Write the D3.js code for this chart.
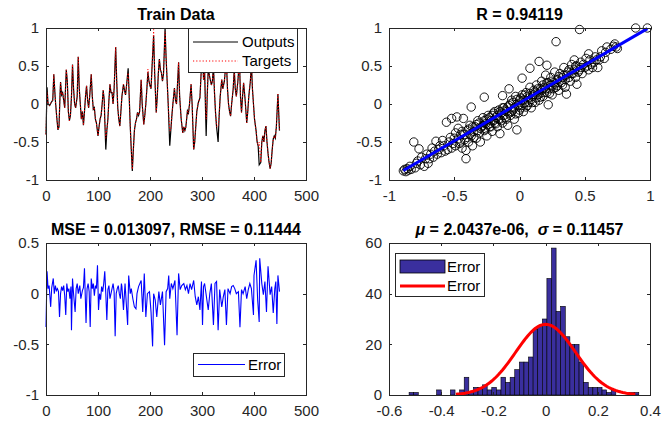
<!DOCTYPE html>
<html>
<head>
<meta charset="utf-8">
<script src="https://cdn.jsdelivr.net/npm/d3@7"></script>
<style>
  body { margin: 0; background: #fff; }
  svg { display: block; font-family: "Liberation Sans", Arial, sans-serif; }
  text { white-space: pre; }
</style>
</head>
<body>
<svg id="chart" width="671" height="428"></svg>
<script>
// ---- train data (sample index / value) ----
const trainIdx = [0, 2, 4, 7, 10, 13, 15, 18, 21, 23, 25, 27, 28, 30, 32, 34, 36, 39, 41, 43, 45, 47, 49, 51, 53, 55, 57, 60, 62, 64, 66, 68, 70, 72, 74, 76, 78, 80, 82, 84, 87, 89, 91, 93, 95, 97, 100, 102, 104, 106, 108, 110, 112, 113, 115, 117, 119, 121, 123, 125, 127, 129, 131, 134, 136, 138, 140, 142, 144, 146, 149, 151, 153, 155, 158, 160, 162, 164, 166, 168, 170, 172, 174, 176, 178, 180, 183, 185, 188, 190, 192, 194, 196, 198, 200, 202, 204, 207, 209, 212, 214, 216, 218, 220, 222, 224, 226, 229, 231, 233, 235, 238, 240, 242, 244, 247, 249, 251, 255, 257, 260, 263, 265, 267, 269, 272, 274, 276, 279, 281, 284, 286, 288, 290, 293, 296, 299, 301, 303, 305, 306, 308, 310, 312, 315, 318, 320, 322, 324, 326, 328, 331, 333, 335, 338, 340, 343, 345, 347, 349, 351, 353, 355, 357, 360, 362, 364, 366, 369, 372, 374, 376, 378, 380, 383, 386, 388, 390, 393, 395, 397, 399, 401, 404, 406, 408, 410, 413, 415, 417, 419, 421, 423, 425, 427, 429, 431, 433, 435, 437, 439, 441, 443, 446, 449]
const targets = [-0.40, 0.15, 0.0, -0.02, 0.02, 0.05, 0.39, 0.05, -0.2, -0.34, -0.3, 0.12, 0.29, 0.12, 0.15, 0.05, -0.05, 0.45, 0.3, -0.1, -0.22, -0.15, 0.1, 0.52, 0.2, 0.0, -0.05, 0.1, 0.62, 0.2, 0.0, -0.2, -0.1, -0.28, -0.1, 0.1, 0.24, 0.05, -0.05, 0.1, 0.39, 0.1, -0.07, -0.05, -0.2, -0.25, -0.42, -0.3, -0.2, -0.15, 0.0, 0.18, 0.05, -0.2, -0.45, -0.35, -0.2, 0.05, 0.26, 0.15, 0.15, 0.0, 0.2, 0.75, 0.3, -0.05, -0.2, -0.29, -0.1, 0.1, 0.26, 0.18, 0.12, 0.25, 0.41, 0.1, -0.29, -0.6, -0.86, -0.6, -0.35, -0.25, -0.2, -0.11, -0.15, -0.1, 0.32, 0.0, -0.27, -0.15, 0.0, 0.2, 0.46, 0.3, 0.24, 0.2, 0.5, 0.98, 0.4, -0.11, 0.1, 0.4, 0.59, 0.45, 0.41, 0.3, 0.4, 0.95, 0.6, 0.3, 0.0, -0.35, -0.35, -0.16, 0.0, 0.21, 0.05, 0.0, 0.55, 0.1, -0.2, -0.38, -0.3, -0.35, -0.3, -0.09, -0.12, 0.0, 0.26, 0.0, -0.6, -0.5, -0.3, -0.1, 0.02, 0.08, 0.5, 0.7, 0.32, 0.45, 0.15, -0.2, 0.1, 0.46, 0.35, 0.25, 0.3, 0.5, 0.15, -0.11, -0.3, -0.3, -0.15, 0.1, 0.32, 0.2, 0.3, 0.45, 0.55, 0.2, 0.0, -0.1, -0.16, 0.0, 0.2, 0.46, 0.2, 0.1, 0.3, 0.59, 0.1, -0.11, 0.1, 0.28, 0.05, -0.25, -0.1, 0.1, 0.3, 0.54, 0.2, 0.0, -0.2, -0.35, -0.5, -0.55, -0.5, -0.77, -0.5, -0.42, -0.5, -0.35, -0.29, -0.5, -0.65, -0.77, -0.85, -0.78, -0.6, -0.46, -0.42, -0.45, -0.3, 0.13, -0.35]
const outputs = [-0.40, 0.22, 0.0, -0.02, 0.02, 0.05, 0.39, 0.05, -0.2, -0.34, -0.3, 0.12, 0.29, 0.12, 0.15, 0.05, -0.05, 0.45, 0.3, -0.1, -0.22, -0.15, 0.1, 0.52, 0.2, 0.0, -0.05, 0.1, 0.62, 0.2, 0.0, -0.2, -0.1, -0.28, -0.1, 0.1, 0.24, 0.05, -0.05, 0.1, 0.39, 0.1, -0.07, -0.05, -0.2, -0.25, -0.42, -0.3, -0.2, -0.15, 0.0, 0.18, 0.05, -0.2, -0.6, -0.35, -0.2, 0.05, 0.26, 0.15, 0.15, 0.0, 0.2, 0.75, 0.3, -0.05, -0.2, -0.29, -0.1, 0.1, 0.26, 0.18, 0.12, 0.25, 0.47, 0.1, -0.29, -0.6, -0.88, -0.6, -0.35, -0.25, -0.2, -0.11, -0.15, -0.1, 0.32, 0.0, -0.27, -0.15, 0.0, 0.2, 0.42, 0.3, 0.24, 0.2, 0.5, 0.9, 0.4, -0.11, 0.1, 0.4, 0.59, 0.45, 0.41, 0.3, 0.4, 1.0, 0.6, 0.3, 0.0, -0.55, -0.35, -0.16, 0.0, 0.21, 0.05, 0.0, 0.55, 0.1, -0.2, -0.38, -0.3, -0.35, -0.3, -0.09, -0.12, 0.0, 0.26, 0.0, -0.6, -0.5, -0.3, -0.1, 0.02, 0.08, 0.5, 0.7, 0.32, 0.45, 0.15, -0.42, 0.1, 0.46, 0.35, 0.25, 0.3, 0.5, 0.15, -0.11, -0.3, -0.5, -0.15, 0.1, 0.32, 0.2, 0.3, 0.45, 0.55, 0.2, 0.0, -0.1, -0.16, 0.0, 0.2, 0.46, 0.2, 0.1, 0.3, 0.59, 0.1, -0.11, 0.1, 0.28, 0.05, -0.25, -0.1, 0.1, 0.3, 0.54, 0.2, 0.0, -0.2, -0.35, -0.5, -0.55, -0.8, -0.77, -0.5, -0.42, -0.5, -0.35, -0.29, -0.5, -0.65, -0.77, -0.85, -0.78, -0.6, -0.46, -0.42, -0.45, -0.3, 0.13, -0.35]

// ---- error series ----
const errIdx = [0, 2, 4, 6, 9, 11, 14, 16, 18, 20, 22, 24, 26, 28, 30, 32, 34, 36, 38, 40, 42, 44, 46, 48, 49, 51, 53, 56, 58, 60, 62, 65, 67, 70, 72, 74, 77, 79, 81, 83, 85, 87, 89, 91, 93, 95, 97, 99, 101, 103, 105, 107, 109, 111, 113, 115, 117, 119, 121, 123, 125, 127, 129, 131, 133, 135, 137, 139, 141, 143, 145, 146, 149, 152, 157, 159, 162, 164, 167, 170, 173, 175, 178, 183, 186, 189, 192, 195, 199, 202, 205, 207, 210, 213, 217, 220, 224, 228, 231, 234, 236, 238, 241, 244, 248, 252, 255, 258, 261, 265, 268, 271, 274, 277, 280, 284, 287, 290, 293, 296, 299, 301, 303, 305, 312, 315, 318, 322, 325, 328, 331, 334, 338, 341, 344, 347, 350, 354, 357, 360, 363, 366, 370, 373, 376, 379, 383, 386, 389, 392, 395, 399, 400, 404, 407, 410, 411, 415, 418, 421, 424, 427, 431, 434, 437, 440, 442, 444, 446, 449]
const errVals = [-0.33, 0.22, 0.05, 0.08, -0.13, 0.06, 0.15, 0.0, 0.08, 0.03, 0.05, 0.02, -0.23, 0.0, 0.07, 0.03, 0.08, -0.02, -0.21, 0.10, 0.02, 0.05, -0.05, 0.07, -0.36, 0.15, 0.0, -0.18, 0.05, 0.10, 0.0, 0.08, -0.05, 0.03, 0.06, 0.25, -0.29, 0.05, 0.10, 0.02, -0.33, 0.15, 0.05, 0.10, -0.02, 0.08, 0.05, 0.28, -0.16, 0.0, -0.06, 0.07, 0.02, 0.10, 0.22, 0.0, -0.26, 0.04, 0.08, -0.05, 0.0, 0.05, 0.10, 0.02, -0.42, 0.0, 0.05, 0.08, 0.0, -0.05, 0.10, 0.07, -0.16, 0.10, -0.31, 0.18, 0.0, 0.05, -0.05, -0.13, -0.15, 0.0, 0.07, 0.13, -0.18, 0.20, -0.23, 0.0, 0.02, -0.18, -0.52, 0.0, -0.06, -0.23, 0.02, -0.11, 0.02, -0.51, 0.02, 0.05, 0.18, -0.05, 0.10, 0.05, 0.13, -0.41, 0.20, 0.04, 0.08, 0.10, 0.04, 0.08, 0.0, 0.10, 0.04, 0.13, -0.03, -0.11, -0.03, -0.16, 0.12, -0.31, 0.07, 0.10, -0.16, 0.0, 0.10, -0.31, 0.10, 0.12, -0.36, 0.04, -0.13, -0.03, 0.04, -0.31, 0.05, 0.0, 0.07, 0.08, 0.05, 0.0, 0.02, -0.33, 0.04, 0.0, 0.07, -0.05, 0.04, 0.10, 0.05, -0.21, 0.18, 0.33, -0.06, -0.28, 0.35, 0.10, -0.01, 0.12, -0.18, 0.27, -0.01, 0.07, -0.19, 0.05, 0.12, -0.30, 0.18, 0.02]

// ---- regression scatter (targets vs outputs) ----
const scatT = [-0.89, -0.88, -0.87, -0.86, -0.85, -0.83, -0.80, -0.81, -0.77, -0.78, -0.76, -0.73, -0.72, -0.70, -0.68, -0.66, -0.65, -0.64, -0.62, -0.60, -0.58, -0.56, -0.55, -0.54, -0.52, -0.52, -0.50, -0.49, -0.48, -0.47, -0.46, -0.45, -0.44, -0.43, -0.42, -0.41, -0.41, -0.40, -0.39, -0.38, -0.37, -0.37, -0.36, -0.35, -0.34, -0.33, -0.32, -0.31, -0.30, -0.29, -0.28, -0.27, -0.27, -0.26, -0.25, -0.24, -0.23, -0.22, -0.21, -0.20, -0.19, -0.18, -0.17, -0.16, -0.15, -0.15, -0.14, -0.13, -0.13, -0.12, -0.11, -0.10, -0.09, -0.08, -0.08, -0.07, -0.06, -0.05, -0.04, -0.03, -0.02, -0.02, -0.01, 0.00, 0.01, 0.02, 0.02, 0.03, 0.04, 0.05, 0.06, 0.07, 0.08, 0.08, 0.09, 0.10, 0.11, 0.12, 0.13, 0.14, 0.15, 0.15, 0.16, 0.17, 0.18, 0.19, 0.20, 0.21, 0.21, 0.22, 0.22, 0.23, 0.24, 0.25, 0.26, 0.27, 0.28, 0.28, 0.29, 0.30, 0.31, 0.32, 0.33, 0.34, 0.35, 0.36, 0.36, 0.38, 0.39, 0.40, 0.41, 0.42, 0.43, 0.44, 0.44, 0.46, 0.46, 0.47, 0.48, 0.50, 0.51, 0.53, 0.53, 0.55, 0.57, 0.58, 0.60, 0.61, 0.63, 0.65, 0.67, 0.70, 0.73, 0.74, 0.89, 0.98,
  -0.84, -0.79, -0.75, -0.71, -0.69, -0.67, -0.63, -0.61, -0.59, -0.57, -0.53, -0.51, -0.49, -0.47, -0.45, -0.44, -0.42, -0.40, -0.39, -0.38, -0.36, -0.35, -0.33, -0.32, -0.31, -0.30, -0.28, -0.27, -0.26, -0.25, -0.24, -0.23, -0.22, -0.21, -0.20, -0.19, -0.18, -0.17, -0.16, -0.15, -0.14, -0.13, -0.12, -0.11, -0.10, -0.09, -0.08, -0.07, -0.06, -0.05, -0.04, -0.03, -0.02, -0.01, 0.00, 0.01, 0.02, 0.03, 0.04, 0.05, 0.06, 0.07, 0.08, 0.09, 0.10, 0.11, 0.12, 0.13, 0.14, 0.15, 0.16, 0.17, 0.18, 0.19, 0.20, 0.21, 0.23, 0.24, 0.25, 0.26, 0.27, 0.29, 0.30, 0.31, 0.33, 0.34, 0.35, 0.37, 0.38, 0.40, 0.42, 0.43, 0.45, 0.47, 0.49, 0.52, 0.54, 0.56, 0.59, 0.62, 0.66, 0.72, 0.75]
const scatO = [-0.88, -0.86, -0.89, -0.85, -0.87, -0.86, -0.84, -0.50, -0.59, -0.75, -0.80, -0.82, -0.72, -0.78, -0.66, -0.70, -0.62, -0.49, -0.60, -0.64, -0.55, -0.24, -0.60, -0.50, -0.19, -0.58, -0.45, -0.55, -0.17, -0.32, -0.52, -0.40, -0.58, -0.19, -0.47, -0.72, -0.61, -0.35, -0.50, -0.28, -0.04, -0.42, -0.55, -0.36, -0.30, -0.45, -0.22, -0.38, -0.50, -0.30, -0.18, 0.09, -0.35, -0.26, -0.42, -0.15, -0.30, -0.22, -0.36, -0.12, -0.25, -0.18, -0.30, -0.08, -0.39, -0.20, -0.12, 0.11, -0.25, -0.05, -0.18, -0.10, -0.28, 0.20, -0.02, -0.15, 0.05, -0.08, -0.20, 0.10, -0.34, 0.00, -0.12, 0.05, -0.05, 0.34, 0.12, -0.10, 0.02, 0.15, -0.02, 0.08, 0.47, 0.22, -0.05, 0.10, 0.18, 0.02, 0.25, 0.12, 0.56, 0.05, 0.20, 0.30, 0.10, 0.22, 0.38, 0.51, 0.15, -0.01, 0.28, 0.20, 0.35, 0.12, 0.28, 0.42, 0.82, 0.22, 0.32, 0.18, 0.40, 0.28, 0.35, 0.48, 0.22, 0.13, 0.38, 0.45, 0.30, 0.52, 0.40, 0.58, 0.35, 0.26, 0.50, 0.98, 0.45, 0.55, 0.40, 0.48, 0.60, 0.66, 0.45, 0.52, 0.55, 0.62, 0.48, 0.58, 0.70, 0.60, 0.75, 0.72, 0.79, 0.75, 1.00, 1.00,
  -0.82, -0.78, -0.70, -0.66, -0.72, -0.58, -0.66, -0.55, -0.48, -0.62, -0.44, -0.52, -0.38, -0.46, -0.50, -0.36, -0.40, -0.44, -0.33, -0.40, -0.30, -0.44, -0.27, -0.35, -0.25, -0.32, -0.28, -0.22, -0.33, -0.20, -0.27, -0.18, -0.30, -0.15, -0.22, -0.10, -0.26, -0.15, -0.20, -0.10, -0.22, -0.05, -0.15, -0.08, -0.20, -0.04, -0.12, 0.00, -0.10, 0.02, -0.05, -0.13, 0.06, -0.02, -0.08, 0.08, -0.02, 0.05, 0.12, -0.04, 0.10, 0.02, 0.14, 0.06, 0.02, 0.12, 0.16, 0.08, 0.20, 0.13, 0.09, 0.18, 0.25, 0.15, 0.20, 0.28, 0.14, 0.25, 0.30, 0.20, 0.26, 0.24, 0.36, 0.30, 0.25, 0.38, 0.32, 0.42, 0.35, 0.40, 0.45, 0.50, 0.42, 0.48, 0.52, 0.50, 0.58, 0.48, 0.58, 0.62, 0.68, 0.76, 0.73]

// ---- error histogram ----
const histStart = -0.523
const histWidth = 0.0176
const histCounts = [1, 1, 0, 0, 0, 0, 2, 0, 0, 2, 0, 2, 7, 1, 3, 3, 4, 2, 3, 2, 7, 5, 7, 10, 13, 13, 15, 26, 27, 30, 46, 58, 33, 35, 23, 20, 20, 13, 5, 3, 3, 3, 2, 1, 2, 0, 0, 0, 1, 1]
const errMu = 2.0437e-06
const errSigma = 0.11457

const titles = ['Train Data', 'R = 0.94119', 'MSE = 0.013097, RMSE = 0.11444']

const svg = d3.select('#chart')
const axisColor = '#262626'
const font = '"Liberation Sans", Arial, sans-serif'

function frame (g, x, y, xt, yt) {
  const [xa, xb] = x.range()
  const [yb, ya] = y.range()
  const fmt = d => String(d)
  g.append('g').attr('transform', `translate(0,${yb})`)
    .call(d3.axisBottom(x).tickValues(xt).tickSizeInner(-3).tickSizeOuter(0).tickPadding(10).tickFormat(fmt))
  g.append('g').attr('transform', `translate(0,${ya})`)
    .call(d3.axisTop(x).tickValues(xt).tickSizeInner(-3).tickSizeOuter(0).tickFormat(''))
  g.append('g').attr('transform', `translate(${xa},0)`)
    .call(d3.axisLeft(y).tickValues(yt).tickSizeInner(-3).tickSizeOuter(0).tickPadding(7).tickFormat(fmt))
  g.append('g').attr('transform', `translate(${xb},0)`)
    .call(d3.axisRight(y).tickValues(yt).tickSizeInner(-3).tickSizeOuter(0).tickFormat(''))
  g.selectAll('.domain, .tick line').attr('stroke', axisColor).attr('shape-rendering', 'crispEdges')
  g.selectAll('.tick text').attr('fill', axisColor).style('font-size', '15px').style('font-family', font)
}

function title (g, x, y, txt) {
  return g.append('text')
    .attr('x', (x.range()[0] + x.range()[1]) / 2)
    .attr('y', y.range()[1] - 8)
    .attr('text-anchor', 'middle')
    .attr('font-weight', 'bold')
    .attr('font-size', 16)
    .text(txt)
}

function legendBox (g, x0, y0, w, h) {
  g.append('rect').attr('x', x0).attr('y', y0).attr('width', w).attr('height', h)
    .attr('fill', '#fff').attr('stroke', axisColor).attr('shape-rendering', 'crispEdges')
}

function legendText (g, x0, y0, txt) {
  g.append('text').attr('x', x0).attr('y', y0).attr('dy', '0.35em')
    .attr('font-size', 15).attr('fill', '#000').text(txt)
}

// ---------- top left: train data ----------
{
  const g = svg.append('g')
  const x = d3.scaleLinear().domain([0, 500]).range([46, 306])
  const y = d3.scaleLinear().domain([-1, 1]).range([180, 28])
  const line = d3.line().x(d => x(d[0])).y(d => y(d[1]))
  g.append('path').datum(d3.zip(trainIdx, outputs)).attr('d', line)
    .attr('fill', 'none').attr('stroke', '#000').attr('stroke-width', 1.2)
  g.append('path').datum(d3.zip(trainIdx, targets)).attr('d', line)
    .attr('fill', 'none').attr('stroke', '#f00').attr('stroke-width', 1).attr('stroke-dasharray', '1.2,2')
  frame(g, x, y, [0, 100, 200, 300, 400, 500], [-1, -0.5, 0, 0.5, 1])
  title(g, x, y, titles[0])
  legendBox(g, 188, 28, 109, 44)
  g.append('line').attr('x1', 193).attr('x2', 238).attr('y1', 42).attr('y2', 42).attr('stroke', '#000')
  g.append('line').attr('x1', 193).attr('x2', 238).attr('y1', 61).attr('y2', 61)
    .attr('stroke', '#f00').attr('stroke-dasharray', '1.2,2')
  legendText(g, 242, 42, 'Outputs')
  legendText(g, 242, 61, 'Targets')
}

// ---------- top right: regression ----------
{
  const g = svg.append('g')
  const x = d3.scaleLinear().domain([-1, 1]).range([389, 650])
  const y = d3.scaleLinear().domain([-1, 1]).range([180, 28])
  const pts = d3.zip(scatT, scatO)
  g.append('g').selectAll('circle').data(pts).join('circle')
    .attr('cx', d => x(d[0])).attr('cy', d => y(d[1])).attr('r', 4.2)
    .attr('fill', 'none').attr('stroke', '#000').attr('stroke-width', 0.9)
  // least-squares fit of outputs on targets
  const mx = d3.mean(pts, d => d[0]), my = d3.mean(pts, d => d[1])
  const slope = d3.sum(pts, d => (d[0] - mx) * (d[1] - my)) / d3.sum(pts, d => (d[0] - mx) ** 2)
  const icpt = my - slope * mx
  const [lo, hi] = d3.extent(pts, d => d[0])
  g.append('line')
    .attr('x1', x(lo)).attr('y1', y(slope * lo + icpt))
    .attr('x2', x(hi)).attr('y2', y(slope * hi + icpt))
    .attr('stroke', '#00f').attr('stroke-width', 3)
  frame(g, x, y, [-1, -0.5, 0, 0.5, 1], [-1, -0.5, 0, 0.5, 1])
  title(g, x, y, titles[1])
}

// ---------- bottom left: error ----------
{
  const g = svg.append('g')
  const x = d3.scaleLinear().domain([0, 500]).range([46, 306])
  const y = d3.scaleLinear().domain([-1, 0.5]).range([395, 243])
  const line = d3.line().x(d => x(d[0])).y(d => y(d[1]))
  g.append('path').datum(d3.zip(errIdx, errVals)).attr('d', line)
    .attr('fill', 'none').attr('stroke', '#00f').attr('stroke-width', 1.1)
  frame(g, x, y, [0, 100, 200, 300, 400, 500], [-1, -0.5, 0, 0.5])
  title(g, x, y, titles[2])
  legendBox(g, 193, 353, 91, 23)
  g.append('line').attr('x1', 198).attr('x2', 245).attr('y1', 364.5).attr('y2', 364.5).attr('stroke', '#00f')
  legendText(g, 248, 364.5, 'Error')
}

// ---------- bottom right: histogram ----------
{
  const g = svg.append('g')
  const x = d3.scaleLinear().domain([-0.6, 0.4]).range([389, 650])
  const y = d3.scaleLinear().domain([0, 60]).range([395, 243])
  const barFill = '#3a2f9e'
  g.append('g').selectAll('rect').data(histCounts).join('rect')
    .attr('x', (d, i) => x(histStart + i * histWidth))
    .attr('width', x(histWidth) - x(0))
    .attr('y', d => y(d))
    .attr('height', d => y(0) - y(d))
    .attr('fill', barFill).attr('stroke', '#000').attr('stroke-width', 0.6)
  // normal fit scaled to the histogram area
  const area = d3.sum(histCounts) * histWidth
  const xs = d3.range(101).map(k => errMu - 3 * errSigma + k * 6 * errSigma / 100)
  const pdf = v => area * Math.exp(-0.5 * ((v - errMu) / errSigma) ** 2) / (errSigma * Math.sqrt(2 * Math.PI))
  g.append('path').datum(xs).attr('d', d3.line().x(d => x(d)).y(d => y(pdf(d))))
    .attr('fill', 'none').attr('stroke', '#f00').attr('stroke-width', 3)
  frame(g, x, y, [-0.6, -0.4, -0.2, 0, 0.2, 0.4], [0, 20, 40, 60])
  const t = g.append('text')
    .attr('x', (389 + 650) / 2).attr('y', 235)
    .attr('text-anchor', 'middle').attr('font-weight', 'bold').attr('font-size', 16)
  t.append('tspan').attr('font-style', 'italic').text('μ')
  t.append('tspan').text(` = ${errMu.toExponential(4).replace('e-6', 'e-06')},  `)
  t.append('tspan').attr('font-style', 'italic').text('σ')
  t.append('tspan').text(` = ${errSigma}`)
  legendBox(g, 395, 253, 89, 43)
  g.append('rect').attr('x', 400).attr('y', 260).attr('width', 45).attr('height', 13)
    .attr('fill', barFill).attr('stroke', '#000').attr('stroke-width', 0.8)
  g.append('line').attr('x1', 400).attr('x2', 445).attr('y1', 286).attr('y2', 286)
    .attr('stroke', '#f00').attr('stroke-width', 3)
  legendText(g, 447, 266.5, 'Error')
  legendText(g, 447, 286, 'Error')
}
</script>
</body>
</html>
